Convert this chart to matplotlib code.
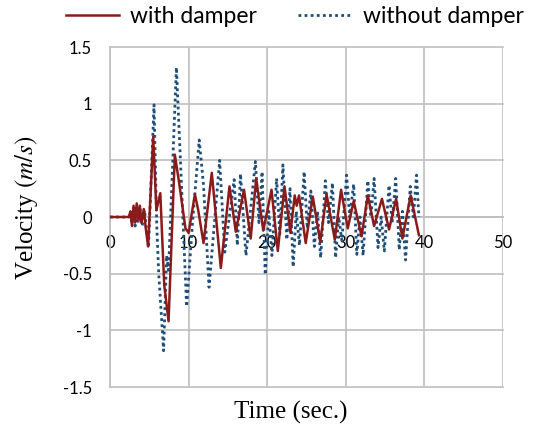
import matplotlib
matplotlib.use("Agg")
import matplotlib.pyplot as plt

plt.rcParams["mathtext.fontset"] = "stix"

# with damper (turning points)
t_with = [0, 2.4, 2.6, 2.8, 3.0, 3.2, 3.4, 3.6, 3.8, 4.0, 4.3, 4.55, 4.85,
          5.5, 5.9, 6.4, 6.9, 7.45, 8.25, 8.8, 9.6, 10.0, 10.8, 11.2, 11.9,
          12.95, 14.1, 15.2, 16.0, 17.05, 17.9, 18.6, 19.5, 20.55, 21.35,
          22.2, 22.95, 23.5, 23.75, 24.05, 24.9, 25.8, 26.75, 27.55, 28.6,
          29.4, 30.25, 31.0, 32.0, 32.8, 33.6, 34.6, 35.5, 36.4, 37.2, 38.25, 39.3]
v_with = [0, 0, 0.05, -0.08, 0.1, -0.05, 0.12, -0.03, 0.1, -0.05, 0.07, -0.1, -0.26,
          0.71, 0.06, 0.21, -0.6, -0.92, 0.55, 0.3, -0.1, -0.14, 0.2, 0.07, -0.23,
          0.39, -0.45, 0.27, -0.13, 0.24, -0.19, 0.34, -0.12, 0.24, -0.3,
          0.27, -0.14, 0.19, 0.1, 0.19, -0.23, 0.18, -0.22, 0.2, -0.2,
          0.24, -0.1, 0.14, -0.17, 0.19, -0.08, 0.16, -0.11, 0.16, -0.19, 0.19, -0.16]

# without damper
t_without = [0, 2.4, 2.6, 2.8, 3.0, 3.2, 3.4, 3.6, 3.8, 4.1, 4.4, 4.65, 4.9,
             5.6, 5.95, 6.2, 6.82, 7.2, 7.45, 8.45, 9.17, 9.75, 10.5, 11.35, 11.9,
             12.6, 13.95, 14.6, 15.8, 16.2, 16.6, 17.3, 18.5, 18.95, 19.35, 19.75,
             20.2, 20.6, 21.2, 21.6, 22.0, 22.5, 22.9, 23.3, 23.7, 24.1, 24.7, 25.1,
             25.55, 26.0, 26.4, 26.8, 27.4, 27.8, 28.3, 28.7, 29.1, 29.5, 30.1, 30.5,
             31.0, 31.4, 31.8, 32.2, 32.8, 33.2, 33.6, 34.1, 34.5, 34.9, 35.5, 35.9,
             36.35, 36.8, 37.2, 37.6, 38.2, 38.6, 39.0, 39.3]
v_without = [0, 0, 0.04, -0.06, 0.08, -0.08, 0.1, -0.05, 0.08, -0.08, 0.06, -0.12, -0.27,
             0.99, -0.08, -0.5, -1.18, -0.34, -0.47, 1.32, 0.16, -0.79, -0.05, 0.68, 0.28,
             -0.62, 0.5, -0.31, 0.33, -0.25, 0.38, -0.34, 0.49, -0.05, 0.4, -0.51,
             0.05, -0.34, 0.34, -0.15, 0.46, -0.2, 0.25, -0.44, 0.05, -0.25, 0.4, -0.1,
             0.23, -0.26, 0.05, -0.36, 0.32, -0.05, 0.3, -0.36, 0.0, -0.21, 0.37, 0.0,
             0.29, -0.33, 0.0, -0.34, 0.32, 0.0, 0.34, -0.27, 0.0, -0.3, 0.28, -0.05,
             0.34, -0.29, 0.05, -0.38, 0.27, 0.0, 0.37, 0.0]

x_ticks = [0, 10, 20, 30, 40, 50]
y_ticks = [-1.5, -1, -0.5, 0, 0.5, 1, 1.5]
y_ticklabels = ["-1.5", "-1", "-0.5", "0", "0.5", "1", "1.5"]

fig = plt.figure(figsize=(5.33, 4.29), dpi=100)
ax = fig.add_axes([110/533, 1-387/429, 393/533, 340/429])

grid_c = "#BFBFBF"
ax.plot(t_with, v_with, color="#8B1A1A", lw=1.8, label="with damper", zorder=4)
ax.plot(t_without, v_without, color="#1F4E79", lw=2.0, ls=(0, (1, 1.2)),
        label="without damper", zorder=3)

ax.set_xlim(0, 50)
ax.set_ylim(-1.5, 1.5)
ax.set_xticks(x_ticks)
ax.set_yticks(y_ticks)
ax.set_yticklabels(y_ticklabels)
ax.set_axisbelow(True)
ax.grid(True, color=grid_c, lw=1.2)
for ln in ax.get_ygridlines() + ax.get_xgridlines():
    ln.set_clip_on(False)

for s in ["top", "right"]:
    ax.spines[s].set_visible(False)
ax.spines["left"].set_color(grid_c)
ax.spines["left"].set_linewidth(1.2)
ax.spines["bottom"].set_position(("data", 0))
ax.spines["bottom"].set_color(grid_c)
ax.spines["bottom"].set_linewidth(1.2)
ax.tick_params(length=0, labelsize=12, pad=13, colors="black")
for lab in ax.get_xticklabels() + ax.get_yticklabels():
    lab.set_family(["Lato", "DejaVu Sans"])

fig.text(291 / 533, 1 - 412 / 429, "Time (sec.)",
         family=["Liberation Serif"], fontsize=18, ha="center", va="center")
fig.text(27 / 533, 1 - 208 / 429, "Velocity $(m/s)$",
         family=["Liberation Serif"], fontsize=18, ha="center", va="center",
         rotation=90)

fig.legend(loc="center", bbox_to_anchor=(0.553, 0.962), ncol=2, frameon=False,
           prop={"family": "Lato", "size": 16.5}, handlelength=2.3, columnspacing=1.8,
           handletextpad=0.5)

fig.savefig("out.png", dpi=100)
